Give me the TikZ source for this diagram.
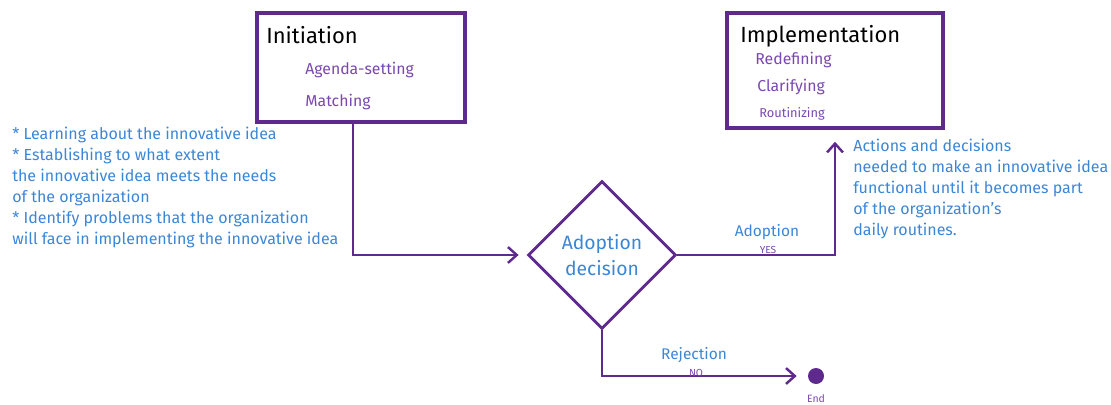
\documentclass[tikz,border=0pt]{standalone}
\usepackage{fontspec}
\setmainfont{Fira Sans}
\usetikzlibrary{shapes.geometric,arrows.meta}
\definecolor{boxpurple}{HTML}{5E2A8E}
\definecolor{txtpurple}{HTML}{7A48B0}
\definecolor{noteblue}{HTML}{3C86D6}
\tikzset{
  stage/.style={draw=boxpurple,line width=2pt,rectangle},
  flow/.style={draw=boxpurple,line width=1.4pt,-{Straight Barb[length=5pt,width=9pt]}},
  note/.style={noteblue,anchor=north west,align=left,font=\fontsize{9.1}{11.9}\selectfont,inner sep=0pt},
  item/.style={txtpurple,anchor=west,inner sep=0pt,font=\fontsize{9}{10}\selectfont}
}
\begin{document}
\begin{tikzpicture}[x=0.02cm,y=-0.02cm]
\useasboundingbox (0,0) rectangle (1111,405);
  \node[stage,minimum width=208*0.02cm,minimum height=109*0.02cm] at (361,67.5) (init) {};
  \node[anchor=west,inner sep=0pt,font=\fontsize{12.5}{14}\selectfont] at (266,35) (initt) {Initiation};
  \node[item] at (305,70) (agenda) {Agenda-setting};
  \node[item] at (305,102) (match) {Matching};
  \node[stage,minimum width=216*0.02cm,minimum height=115*0.02cm] at (835,70.5) (impl) {};
  \node[anchor=west,inner sep=0pt,font=\fontsize{12.5}{14}\selectfont] at (740,36) (implt) {Implementation};
  \node[item] at (755,60) (redef) {Redefining};
  \node[item] at (757,87) (clar) {Clarifying};
  \node[item,font=\fontsize{7.3}{8}\selectfont] at (759,114) (rout) {Routinizing};
  \node[note] at (12,127) (left) {* Learning about the innovative idea\\* Establishing to what extent\\the innovative idea meets the needs\\of the organization\\* Identify problems that the organization\\will face in implementing the innovative idea};
  \node[note] at (853,139) (right) {Actions and decisions\\needed to make an innovative idea\\functional until it becomes part\\of the organization's\\daily routines.};
  \node[diamond,draw=boxpurple,line width=1.6pt,aspect=1,minimum size=148*0.02cm,inner sep=0pt,
    text=noteblue,align=center,font=\fontsize{11}{14.5}\selectfont] at (602,255) (dec) {Adoption\\decision};
  \node[circle,fill=boxpurple,minimum size=16*0.02cm,inner sep=0pt] at (816,376) (endpt) {};
  \node[txtpurple,font=\fontsize{6}{7}\selectfont] at (816,399) (endl) {End};
  \draw[flow] ([xshift=-8*0.02cm]init.south) |- ([xshift=-8*0.02cm]dec.west);
  \draw[flow,shorten >=12*0.02cm] (dec.east) -| (impl.south);
  \draw[flow,shorten >=11*0.02cm] (dec.south) |- (endpt.west);
  \node[noteblue,font=\fontsize{8.8}{10}\selectfont] at (767,232) (yes) {Adoption};
  \node[txtpurple,font=\fontsize{5.8}{6}\selectfont] at (768,250) (yesl) {YES};
  \node[noteblue,font=\fontsize{8.8}{10}\selectfont] at (694,355) (no) {Rejection};
  \node[txtpurple,font=\fontsize{5.8}{6}\selectfont] at (696,373) (nol) {NO};
\end{tikzpicture}
\end{document}
